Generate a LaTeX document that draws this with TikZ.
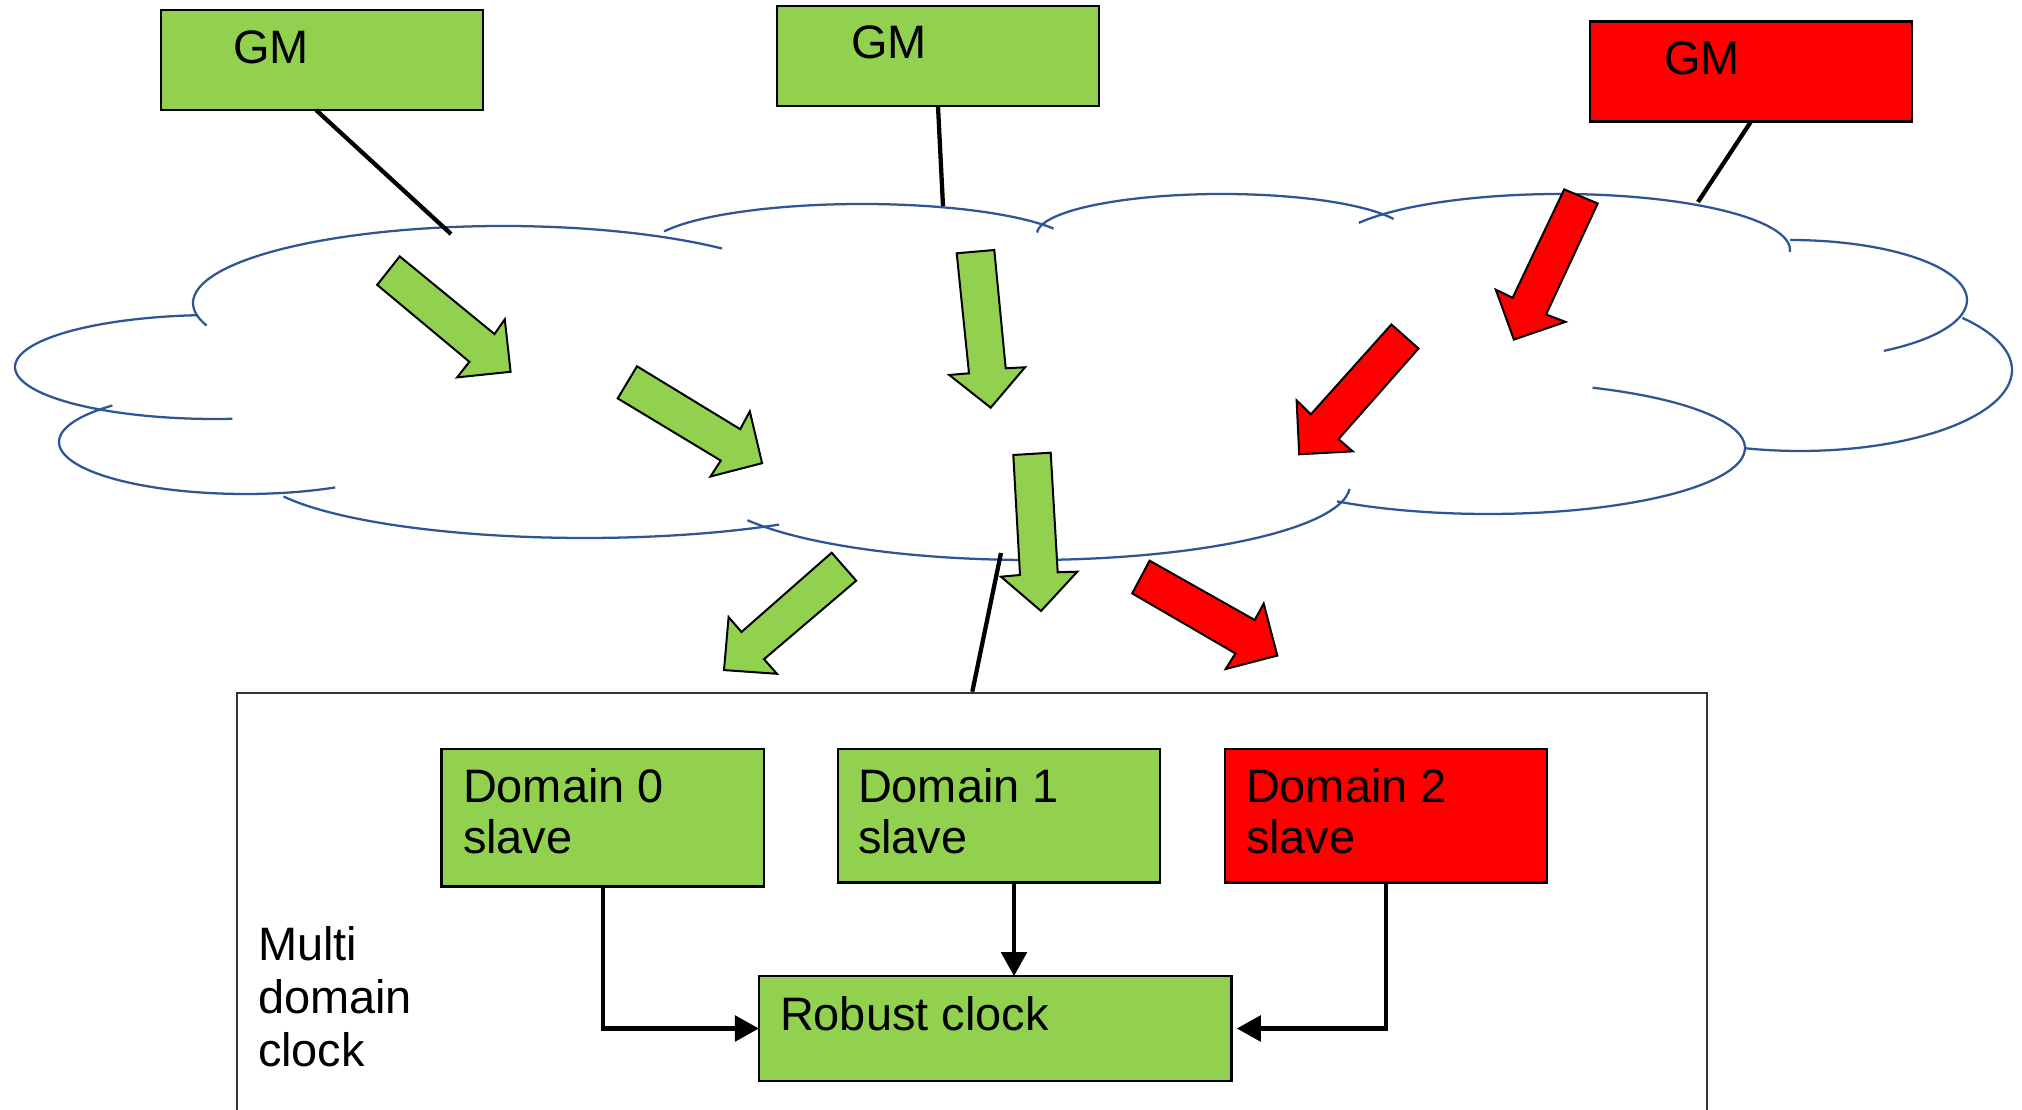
\documentclass[tikz,border=0pt]{standalone}
\usepackage{fontspec}
\setmainfont{Liberation Sans}
\usetikzlibrary{arrows.meta,calc}
\definecolor{pgreen}{HTML}{92D050}
\definecolor{pred}{HTML}{FF0000}
\definecolor{cloudblue}{HTML}{2F5597}
\definecolor{frame}{HTML}{333333}
\newcommand\cloudlobe[6]{\draw[cloudline] plot[domain=#5:#6,samples=60,smooth,variable=\t] ({#1+#3*cos(\t)},{#2-#4*sin(\t)});}
\begin{document}
\begin{tikzpicture}[x=0.375pt,y=-0.375pt,
  box/.style={draw=black,line width=0.9pt,inner sep=0pt,outer sep=0pt,rectangle},
  gmbox/.style={box,minimum width=120.75pt,minimum height=37.5pt},
  dombox/.style={box,minimum width=120.75pt,minimum height=50pt},
  txt/.style={inner sep=0pt,outer sep=0pt,font=\fontsize{17.6pt}{19.4pt}\selectfont},
  mtxt/.style={txt,align=left,anchor=north west},
  gmline/.style={draw=black,line width=1.6pt},
  conn/.style={draw=black,line width=1.7pt,-{Triangle[length=9pt,width=9.5pt]}},
  cloudline/.style={draw=cloudblue,line width=0.85pt},
  garrow/.style={draw=black,line width=0.75pt,fill=pgreen,line join=miter},
  rarrow/.style={draw=black,line width=0.75pt,fill=pred,line join=miter}]
\useasboundingbox (0,0) rectangle (2022,1110);
\fill[white] (0,0) rectangle (2022,1110);

% cloud
\cloudlobe{503}{303}{310}{77}{45}{197}
\cloudlobe{862}{249}{215}{45}{27}{157}
\cloudlobe{1222}{234}{185}{40}{22}{178}
\cloudlobe{1560}{250}{230}{56}{-2}{151}
\cloudlobe{1790}{300}{177}{60}{-58}{90}
\cloudlobe{1800}{370}{212}{81}{-105}{40}
\cloudlobe{1488}{448}{257}{66}{-126}{66}
\cloudlobe{1030}{485}{320}{75}{208}{357}
\cloudlobe{585}{468}{330}{70}{204}{306}
\cloudlobe{245}{442}{186}{52}{135.5}{299}
\cloudlobe{215}{367}{200}{52}{95}{275}

% GM boxes
\node[gmbox,fill=pgreen] (gm1) at (322,60) {};
\node[gmbox,fill=pgreen] (gm2) at (938,56.3) {};
\node[gmbox,fill=pred] (gm3) at (1751,71.5) {};
\node[txt,anchor=base west] (gm1t) at (233,64) {GM};
\node[txt,anchor=base west] (gm2t) at (851,59) {GM};
\node[txt,anchor=base west] (gm3t) at (1664,75) {GM};

% connector end points on the cloud
\coordinate (c1) at (451,234);
\coordinate (c2) at (943,206);
\coordinate (c3) at (1698,202);
\coordinate (c4) at (1001,553);
\draw[gmline] ($(gm1.south)+(-6,0)$) -- (c1);
\draw[gmline] (gm2.south) -- (c2);
\draw[gmline] (gm3.south) -- (c3);

% block arrows
\draw[garrow] (399.7,256.4) -- (494.5,334.1) -- (504.8,319.3) -- (510.6,371.8) -- (457.1,377.4) -- (469.4,361.8) -- (377.2,284.9) -- cycle;
\draw[garrow] (637.0,366.3) -- (740.2,429.2) -- (749.8,411.4) -- (762.1,463.2) -- (710.5,476.5) -- (720.8,460.6) -- (617.7,398.4) -- cycle;
\draw[garrow] (956.7,253.3) -- (994.3,250) -- (1005.7,368.3) -- (1025,367.3) -- (990.7,407.7) -- (949.3,375) -- (969,373.3) -- cycle;
\draw[garrow] (1013.3,455) -- (1050.7,452.7) -- (1057.7,572.3) -- (1077.3,571.7) -- (1041,611) -- (1001,576.7) -- (1020,575) -- cycle;
\draw[garrow] (831.7,552.7) -- (856.2,580.7) -- (764.0,659.2) -- (776.9,673.8) -- (724.0,670.1) -- (728.6,617.1) -- (741.5,632.0) -- cycle;
\draw[rarrow] (1564.2,189.4) -- (1597.7,203.5) -- (1546.1,314.5) -- (1565.5,321.9) -- (1513.9,339.6) -- (1495.8,289.7) -- (1512.6,297.8) -- cycle;
\draw[rarrow] (1391.4,324.5) -- (1418.5,348.5) -- (1338.5,439.1) -- (1352.7,451.4) -- (1299.2,454.3) -- (1296.6,400.3) -- (1310.8,414.4) -- cycle;
\draw[rarrow] (1149.6,560.7) -- (1254.7,620.0) -- (1263.7,603.6) -- (1277.3,655.6) -- (1225.7,669.0) -- (1235.4,653.4) -- (1132.2,593.4) -- cycle;

% multi domain clock container
\node[draw=frame,line width=0.75pt,rectangle,inner sep=0pt,minimum width=551.25pt,minimum height=167.7pt] (mdc) at (972.3,916.35) {};
\draw[gmline] (c4) -- (mdc.north);
\node[mtxt,font=\fontsize{17.6pt}{19.95pt}\selectfont] (mdct) at (258,926) {Multi\\domain\\clock};

% domain slaves
\node[box,fill=pgreen,minimum width=120.9pt,minimum height=51.6pt] (d0) at (602.8,817.8) {};
\node[dombox,fill=pgreen] (d1) at (999,815.7) {};
\node[dombox,fill=pred] (d2) at (1386.2,815.7) {};
\node[mtxt] (d0t) at (463,768) {Domain 0\\slave};
\node[mtxt] (d1t) at (858,768) {Domain 1\\slave};
\node[mtxt] (d2t) at (1246,768) {Domain 2\\slave};

% robust clock
\node[box,fill=pgreen,minimum width=177.2pt,minimum height=39.3pt] (rc) at (995.2,1028.5) {};
\node[mtxt] (rct) at (780,996) {Robust clock};

% connectors
\coordinate (d1b) at ($(d1.south)+(15,0)$);
\draw[conn] (d0.south) |- (rc.west);
\draw[conn] (d1b) -- (d1b |- rc.north);
\draw[conn,shorten >=2pt] (d2.south) |- (rc.east);
\end{tikzpicture}
\end{document}
